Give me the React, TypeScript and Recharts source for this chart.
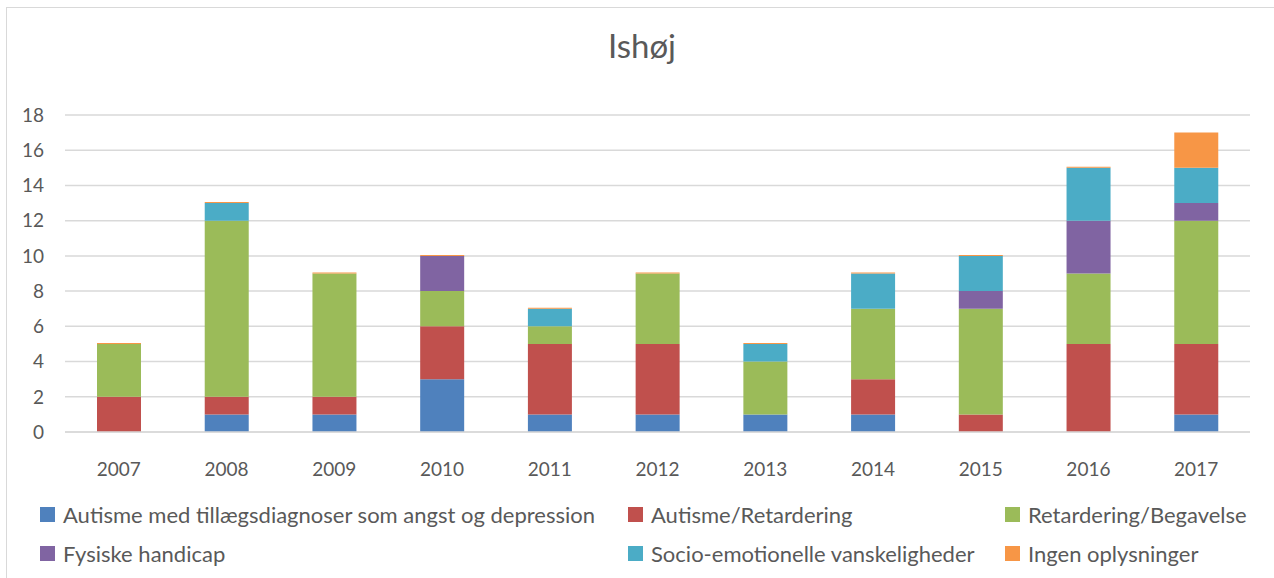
import React from "react";
import { BarChart, Bar, XAxis, YAxis, CartesianGrid } from "recharts";

const years = ["2007", "2008", "2009", "2010", "2011", "2012", "2013", "2014", "2015", "2016", "2017"];
const autismeTillaeg = [0, 1, 1, 3, 1, 1, 1, 1, 0, 0, 1];
const autismeRetardering = [2, 1, 1, 3, 4, 4, 0, 2, 1, 5, 4];
const retarderingBegavelse = [3, 10, 7, 2, 1, 4, 3, 4, 6, 4, 7];
const fysiskeHandicap = [0, 0, 0, 2, 0, 0, 0, 0, 1, 3, 1];
const socioEmotionelle = [0, 1, 0, 0, 1, 0, 1, 2, 2, 3, 2];
const ingenOplysninger = [0, 0, 0, 0, 0, 0, 0, 0, 0, 0, 2];
const yTicks = [0, 2, 4, 6, 8, 10, 12, 14, 16, 18];

const series = [
  { key: "a", name: "Autisme med tillægsdiagnoser som angst og depression", color: "#4F81BD", values: autismeTillaeg },
  { key: "b", name: "Autisme/Retardering", color: "#C0504D", values: autismeRetardering },
  { key: "c", name: "Retardering/Begavelse", color: "#9BBB59", values: retarderingBegavelse },
  { key: "d", name: "Fysiske handicap", color: "#8064A2", values: fysiskeHandicap },
  { key: "e", name: "Socio-emotionelle vanskeligheder", color: "#4BACC6", values: socioEmotionelle },
  { key: "f", name: "Ingen oplysninger", color: "#F79646", values: ingenOplysninger },
];

const data = years.map((y, i) => {
  const row: Record<string, number | string> = { year: y };
  series.forEach((s) => (row[s.key] = s.values[i]));
  return row;
});

const FONT = "Lato, 'Open Sans', sans-serif";
const TEXT = "#595959";

const legendPos = [
  { left: 40, top: 501 },
  { left: 628, top: 501 },
  { left: 1005, top: 501 },
  { left: 40, top: 540 },
  { left: 628, top: 540 },
  { left: 1005, top: 540 },
];

export default function App() {
  return (
    <div style={{ position: "fixed", left: 0, top: 0, width: 1274, height: 578, overflow: "hidden", background: "#fff", fontFamily: FONT }}>
      <div style={{ position: "absolute", left: 6, top: 7, width: 1300, height: 600, border: "1.5px solid #d9d9d9", boxSizing: "border-box" }} />
      <div style={{ position: "absolute", left: 0, width: 1284, top: 25, textAlign: "center", fontSize: 33, color: TEXT }}>Ishøj</div>
      <div style={{ position: "absolute", left: 0, top: 0 }}>
        <BarChart width={1274} height={578} data={data} margin={{ top: 115, right: 24, bottom: 116, left: 0 }} barSize={44}>
          <CartesianGrid vertical={false} stroke="#d9d9d9" strokeWidth={1.5} />
          <XAxis dataKey="year" height={30} tickLine={false} tickSize={0} tickMargin={31} axisLine={{ stroke: "#d9d9d9", strokeWidth: 1.5 }} tick={{ fill: TEXT, fontSize: 19, fontFamily: FONT }} />
          <YAxis width={65} domain={[0, 18]} ticks={yTicks} tickLine={false} axisLine={false} tickSize={0} tickMargin={21} tick={{ fill: TEXT, fontSize: 19, fontFamily: FONT }} />
          {series.map((s) => (
            <Bar key={s.key} dataKey={s.key} name={s.name} stackId="x" fill={s.color} isAnimationActive={false} minPointSize={s.key === "f" ? 1 : 0} />
          ))}
        </BarChart>
      </div>
      {series.map((s, i) => (
        <div key={s.key} style={{ position: "absolute", left: legendPos[i].left, top: legendPos[i].top, display: "flex", alignItems: "center", fontSize: 22, color: TEXT, whiteSpace: "nowrap" }}>
          <span style={{ display: "inline-block", width: 15, height: 15, background: s.color, marginRight: 8 }} />
          <span>{s.name}</span>
        </div>
      ))}
    </div>
  );
}
